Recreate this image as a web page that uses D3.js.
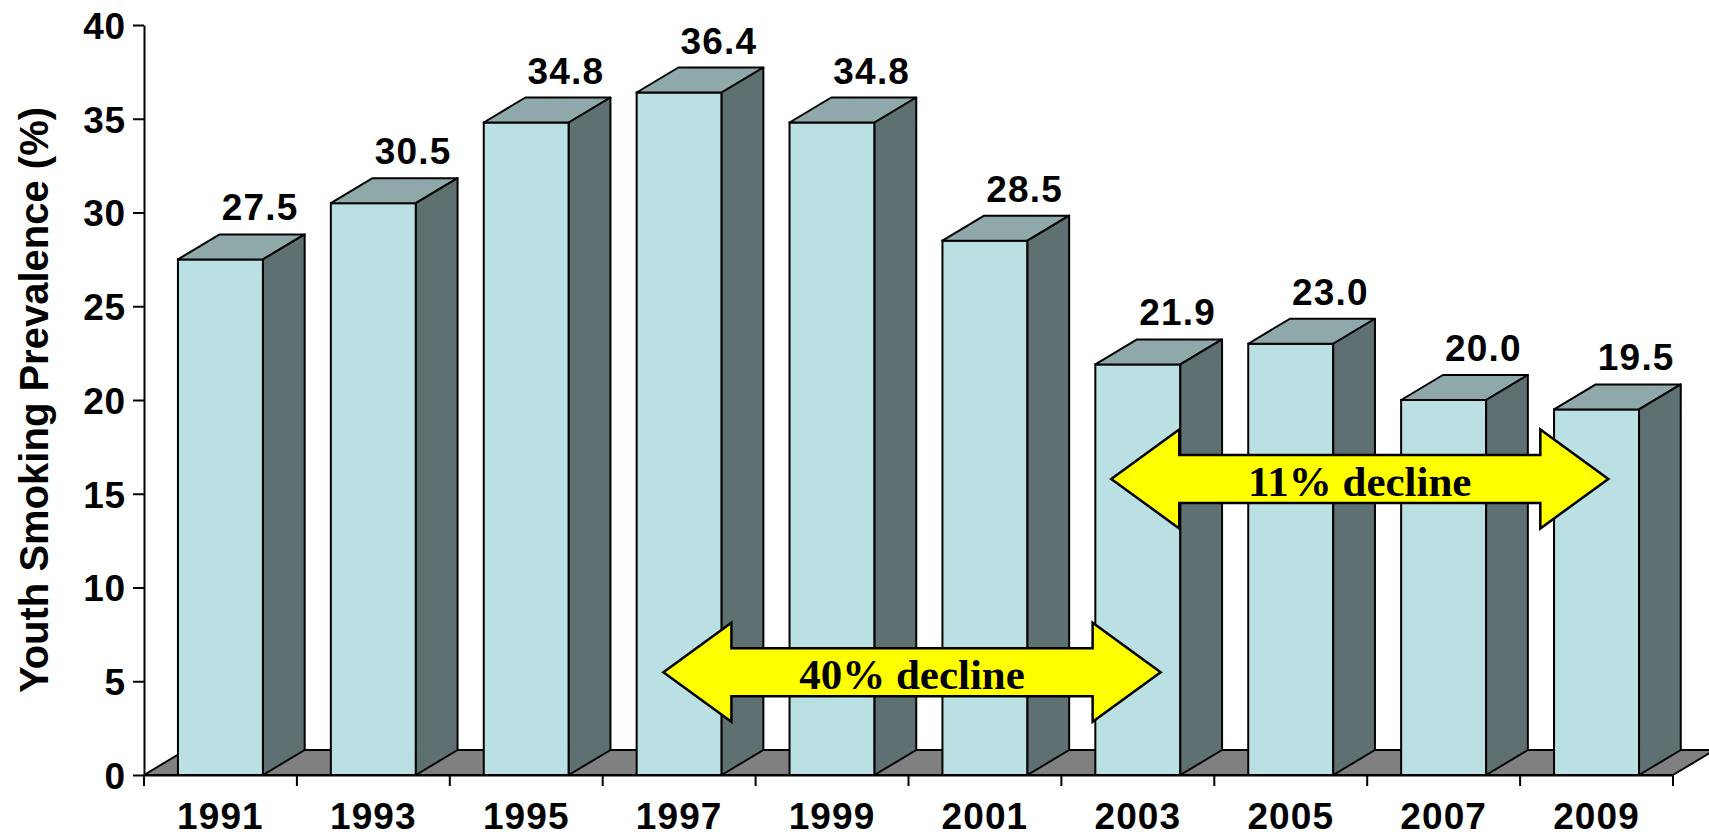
<!DOCTYPE html>
<html>
<head>
<meta charset="utf-8">
<script src="https://cdn.jsdelivr.net/npm/d3@7"></script>
<style>
  body { margin: 0; background: #fff; }
  svg { display: block; }
  text { font-family: "Liberation Sans", Arial, sans-serif; font-weight: bold; }
</style>
</head>
<body>
<svg width="1709" height="838"></svg>
<script>
// data
const years = ['1991', '1993', '1995', '1997', '1999', '2001', '2003', '2005', '2007', '2009'];
const prevalence = [27.5, 30.5, 34.8, 36.4, 34.8, 28.5, 21.9, 23.0, 20.0, 19.5];
const yTicks = [0, 5, 10, 15, 20, 25, 30, 35, 40];

// the two yellow arrows: start/end in category units, height in %
const arrowLabels = ['40% decline', '11% decline'];
const arrowFrom = [3.397, 6.326];
const arrowTo = [6.649, 9.577];
const arrowLevel = [5.48, 15.79];

const data = years.map((y, i) => ({ year: y, value: prevalence[i] }));

const svg = d3.select('svg');
const margin = { top: 25, left: 144, right: 36, bottom: 63 };
const width = +svg.attr('width');
const height = +svg.attr('height');

const xScale = d3.scaleBand()
    .domain(years)
    .range([margin.left, width - margin.right])
    .padding(0);

const yScale = d3.scaleLinear()
    .domain([0, 40])
    .range([height - margin.bottom, margin.top]);

// index scale for the arrows
const xIdx = d3.scaleLinear()
    .domain([0, years.length])
    .range(xScale.range());

// 3d depth offset
const dx = 41.7;
const dy = 25;
const barW = xScale.bandwidth() * 0.556;

const frontColor = '#BBE0E3', topColor = '#8FA9AB', sideColor = '#5F7073', floorColor = '#808080';

const y0 = yScale(0);
const x0 = xScale.range()[0];
const x1 = xScale.range()[1];

// floor
svg.append('polygon')
    .attr('points', [[x0, y0], [x1, y0], [x1 + dx, y0 - dy], [x0 + dx, y0 - dy]].join(' '))
    .attr('fill', floorColor)
    .attr('stroke', '#000')
    .attr('stroke-width', 2)
    .attr('stroke-linejoin', 'round');

// bars
const bars = svg.append('g')
    .selectAll('g')
    .data(data)
    .join('g');

const bx = d => xScale(d.year) + (xScale.bandwidth() - barW) / 2;

bars.append('rect')
    .attr('x', bx)
    .attr('y', d => yScale(d.value))
    .attr('width', barW)
    .attr('height', d => y0 - yScale(d.value))
    .attr('fill', frontColor)
    .attr('stroke', '#000')
    .attr('stroke-width', 2);

bars.append('polygon')
    .attr('points', d => {
        const x = bx(d), y = yScale(d.value);
        return [[x, y], [x + barW, y], [x + barW + dx, y - dy], [x + dx, y - dy]].join(' ');
    })
    .attr('fill', topColor)
    .attr('stroke', '#000')
    .attr('stroke-width', 2)
    .attr('stroke-linejoin', 'round');

bars.append('polygon')
    .attr('points', d => {
        const x = bx(d) + barW, y = yScale(d.value);
        return [[x, y], [x + dx, y - dy], [x + dx, y0 - dy], [x, y0]].join(' ');
    })
    .attr('fill', sideColor)
    .attr('stroke', '#000')
    .attr('stroke-width', 2)
    .attr('stroke-linejoin', 'round');

// value labels
bars.append('text')
    .attr('x', d => bx(d) + barW / 2 + dx - 2)
    .attr('y', d => yScale(d.value) - dy - 14)
    .attr('text-anchor', 'middle')
    .attr('font-size', 37)
    .attr('letter-spacing', 1.2)
    .text(d => d.value.toFixed(1));

// y axis
const yAxis = svg.append('g')
    .attr('transform', `translate(${x0},0)`)
    .call(d3.axisLeft(yScale)
        .tickValues(yTicks)
        .tickSize(11)
        .tickSizeOuter(0)
        .tickPadding(7));
yAxis.selectAll('text').attr('font-size', 37).attr('fill', '#000')
    .attr('dy', '0.36em').attr('letter-spacing', 0.8);
yAxis.selectAll('line, path').attr('stroke', '#000').attr('stroke-width', 2);

// x axis labels
const xAxis = svg.append('g')
    .attr('transform', `translate(0,${y0})`)
    .call(d3.axisBottom(xScale).tickSize(0).tickPadding(28).tickSizeOuter(0));
xAxis.selectAll('text').attr('font-size', 37).attr('fill', '#000').attr('letter-spacing', 1.1);
xAxis.select('.domain').attr('stroke', '#000').attr('stroke-width', 2);

// x boundary ticks
xAxis.selectAll('.bound')
    .data(d3.range(years.length + 1))
    .join('line')
    .attr('class', 'bound')
    .attr('x1', i => xIdx(i))
    .attr('x2', i => xIdx(i))
    .attr('y1', 0)
    .attr('y2', 11)
    .attr('stroke', '#000')
    .attr('stroke-width', 2);

// axis title
svg.append('text')
    .attr('transform', `translate(48,${(margin.top + y0) / 2}) rotate(-90)`)
    .attr('text-anchor', 'middle')
    .attr('font-size', 40)
    .text('Youth Smoking Prevalence (%)');

// double arrows
const headLen = 68, headHalf = 49.5, shaftHalf = 24;
arrowLabels.forEach((label, i) => {
    const a = xIdx(arrowFrom[i]), b = xIdx(arrowTo[i]), c = yScale(arrowLevel[i]);
    const pts = [
        [a, c], [a + headLen, c - headHalf], [a + headLen, c - shaftHalf],
        [b - headLen, c - shaftHalf], [b - headLen, c - headHalf], [b, c],
        [b - headLen, c + headHalf], [b - headLen, c + shaftHalf],
        [a + headLen, c + shaftHalf], [a + headLen, c + headHalf]
    ];
    svg.append('polygon')
        .attr('points', pts.join(' '))
        .attr('fill', '#FFFF00')
        .attr('stroke', '#000')
        .attr('stroke-width', 2.5);
    svg.append('text')
        .attr('x', (a + b) / 2)
        .attr('y', c + 17)
        .attr('text-anchor', 'middle')
        .style('font-family', '"Liberation Serif", "Times New Roman", serif')
        .attr('font-size', 43)
        .text(label);
});
</script>
</body>
</html>
